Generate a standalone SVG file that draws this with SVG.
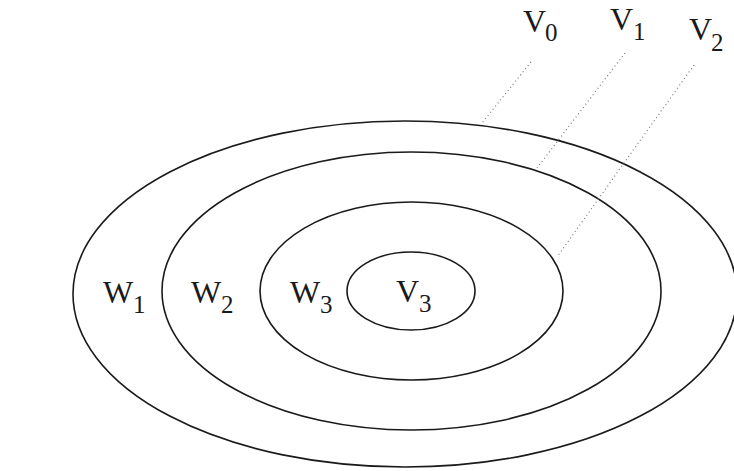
<svg xmlns="http://www.w3.org/2000/svg" width="734" height="471" viewBox="0 0 734 471">
<style>
.set{fill:none;stroke:#1a1a1a;stroke-width:1.6}
.lbl{font-family:"Liberation Serif","Times New Roman",serif;font-size:32px;fill:#1a1a1a}
.sub{font-size:25px}
.lead{fill:none;stroke:#777;stroke-width:1.2;stroke-dasharray:1 3}
</style>
<rect width="734" height="471" fill="#fff"/>
<g id="V0">
<ellipse class="set" cx="405" cy="294" rx="332" ry="173"/>
<text class="lbl" x="523" y="32">V<tspan class="sub" x="545" y="41">0</tspan></text>
</g>
<g id="V1">
<ellipse class="set" cx="411.5" cy="291" rx="249.5" ry="139"/>
<text class="lbl" x="610" y="30">V<tspan class="sub" x="633" y="40">1</tspan></text>
</g>
<g id="V2">
<ellipse class="set" cx="411.5" cy="291" rx="151.5" ry="89"/>
<text class="lbl" x="689" y="40">V<tspan class="sub" x="711" y="51">2</tspan></text>
</g>
<g id="V3">
<ellipse class="set" cx="411" cy="291" rx="64" ry="39"/>
<text class="lbl" x="396" y="302">V<tspan class="sub" x="419" y="312">3</tspan></text>
</g>
<g id="W1"><text class="lbl" x="103" y="303">W<tspan class="sub" x="133" y="313">1</tspan></text></g>
<g id="W2"><text class="lbl" x="191" y="303">W<tspan class="sub" x="221" y="313">2</tspan></text></g>
<g id="W3"><text class="lbl" x="290" y="303">W<tspan class="sub" x="320" y="313">3</tspan></text></g>
<g id="connectors">
<line class="lead" x1="531" y1="62" x2="482" y2="123"/>
<line class="lead" x1="625" y1="53" x2="537" y2="168"/>
<line class="lead" x1="694" y1="65" x2="557" y2="257"/>
</g>
</svg>
